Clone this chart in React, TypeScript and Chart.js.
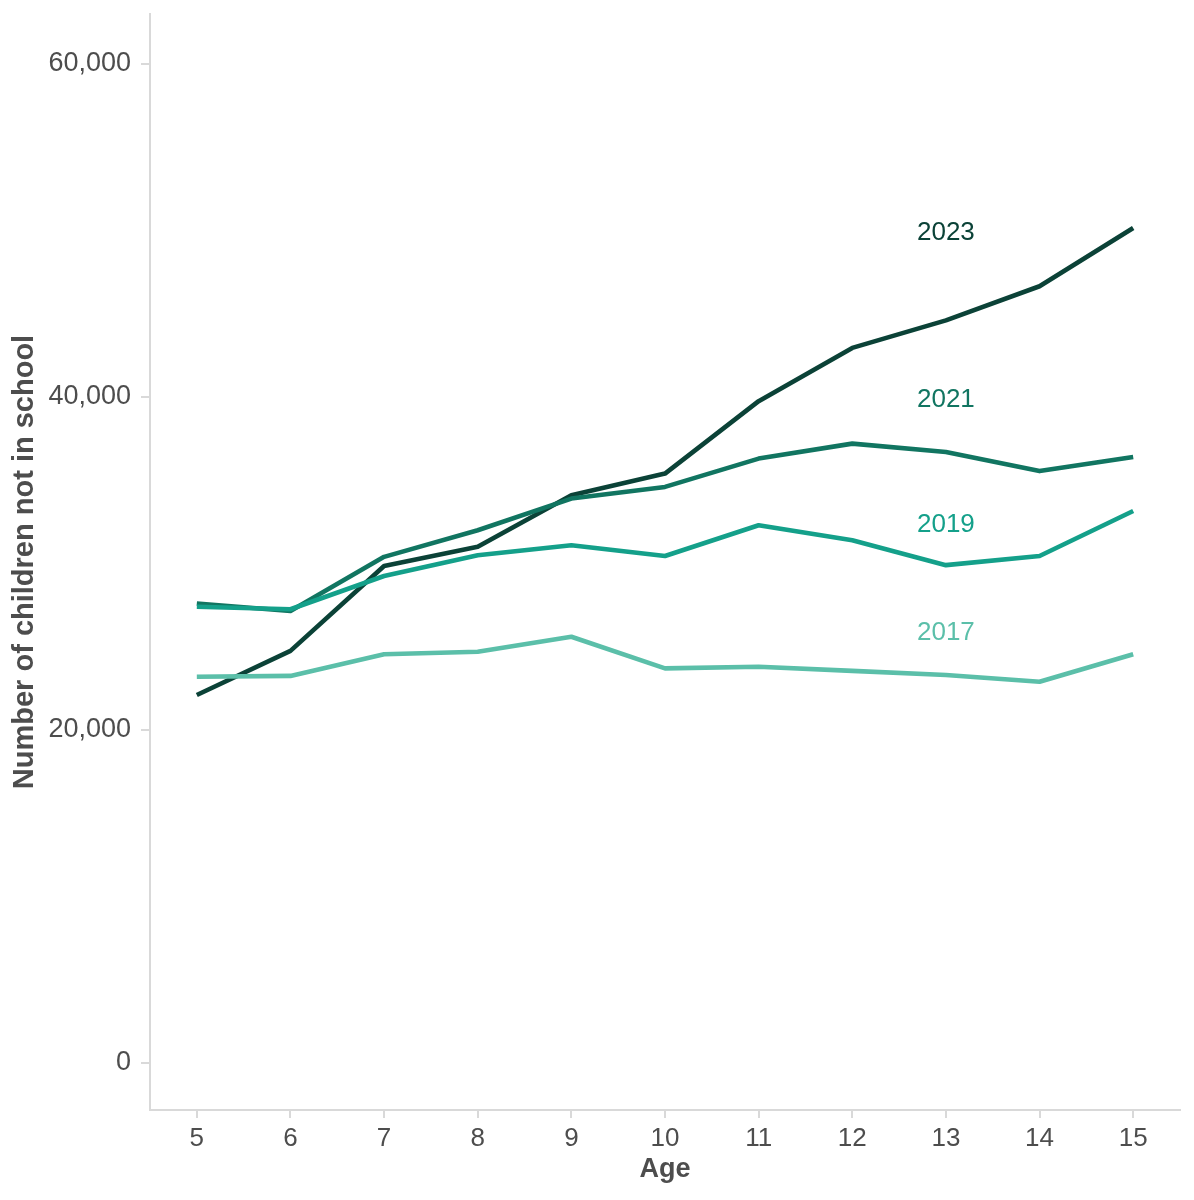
import React, { useEffect, useRef } from "react";
import { Chart, registerables } from "chart.js";

Chart.register(...registerables);

const ages = [5, 6, 7, 8, 9, 10, 11, 12, 13, 14, 15];
const y2023 = [22100, 24750, 29850, 31000, 34100, 35400, 39750, 42950, 44600, 46650, 50150];
const y2021 = [27600, 27150, 30400, 32000, 33900, 34600, 36300, 37200, 36700, 35550, 36400];
const y2019 = [27400, 27250, 29250, 30500, 31100, 30450, 32300, 31400, 29900, 30450, 33150];
const y2017 = [23200, 23250, 24550, 24700, 25600, 23700, 23800, 23550, 23300, 22900, 24550];

const seriesNames = ["2017", "2019", "2021", "2023"];
const seriesColors = ["#5bbfa9", "#14a08a", "#117561", "#0b4237"];
const labelAge = 13;
const labelValues = [25850, 32350, 39850, 49850];
const yTicks = [0, 20000, 40000, 60000];

const FONT = "'Liberation Sans', Arial, sans-serif";
const TEXT = "#4d4d4d";
const AXIS = "#d9d9d9";

const labelPlugin = {
  id: "seriesLabels",
  afterDatasetsDraw(chart: any) {
    const { ctx, scales } = chart;
    ctx.save();
    ctx.font = `26px ${FONT}`;
    ctx.textAlign = "center";
    ctx.textBaseline = "middle";
    seriesNames.forEach((n, i) => {
      ctx.fillStyle = seriesColors[i];
      ctx.fillText(n, scales.x.getPixelForValue(labelAge), scales.y.getPixelForValue(labelValues[i]));
    });
    ctx.restore();
  },
};

export default function App() {
  const ref = useRef<HTMLCanvasElement>(null);
  useEffect(() => {
    const all = [y2017, y2019, y2021, y2023];
    const chart = new Chart(ref.current!, {
      type: "line",
      data: {
        datasets: all.map((vals, i) => ({
          label: seriesNames[i],
          data: ages.map((a, j) => ({ x: a, y: vals[j] })),
          borderColor: seriesColors[i],
          backgroundColor: seriesColors[i],
          borderWidth: 4.6,
          pointRadius: 0,
          tension: 0,
          borderJoinStyle: "round" as const,
        })),
      },
      options: {
        animation: false,
        responsive: false,
        maintainAspectRatio: false,
        layout: { padding: { top: 14, right: 14, left: 0, bottom: 0 } },
        plugins: { legend: { display: false }, tooltip: { enabled: false } },
        scales: {
          x: {
            type: "linear",
            min: 4.5,
            max: 15.5,
            afterBuildTicks: (s: any) => {
              s.ticks = ages.map((v) => ({ value: v }));
            },
            afterFit: (s: any) => {
              s.height = 90;
              s.paddingLeft = 0;
              s.paddingRight = 0;
            },
            border: { color: AXIS, width: 2 },
            grid: { drawOnChartArea: false, tickLength: 8, tickColor: AXIS, lineWidth: 2 },
            ticks: { color: TEXT, font: { family: FONT, size: 26 }, padding: 5, maxRotation: 0 },
            title: {
              display: true,
              text: "Age",
              color: TEXT,
              font: { family: FONT, size: 27, weight: "bold" },
              padding: { top: 0, bottom: 14 },
            },
          },
          y: {
            type: "linear",
            min: -2823,
            max: 63003,
            afterBuildTicks: (s: any) => {
              s.ticks = yTicks.map((v) => ({ value: v }));
            },
            afterFit: (s: any) => {
              s.width = 150;
              s.paddingTop = 0;
              s.paddingBottom = 0;
            },
            border: { color: AXIS, width: 2 },
            grid: { drawOnChartArea: false, tickLength: 9, tickColor: AXIS, lineWidth: 2 },
            ticks: {
              color: TEXT,
              font: { family: FONT, size: 27 },
              padding: 10,
              callback: (v: any) => Number(v).toLocaleString("en-US"),
            },
            title: {
              display: true,
              text: "Number of children not in school",
              color: TEXT,
              font: { family: FONT, size: 29, weight: "bold" },
              padding: { top: 8, bottom: 0 },
            },
          },
        },
      },
      plugins: [labelPlugin],
    });
    return () => chart.destroy();
  }, []);
  return (
    <div style={{ position: "fixed", left: 0, top: 0, width: 1194, height: 1200, background: "#fff" }}>
      <canvas ref={ref} width={1194} height={1200} style={{ width: 1194, height: 1200 }} />
    </div>
  );
}
